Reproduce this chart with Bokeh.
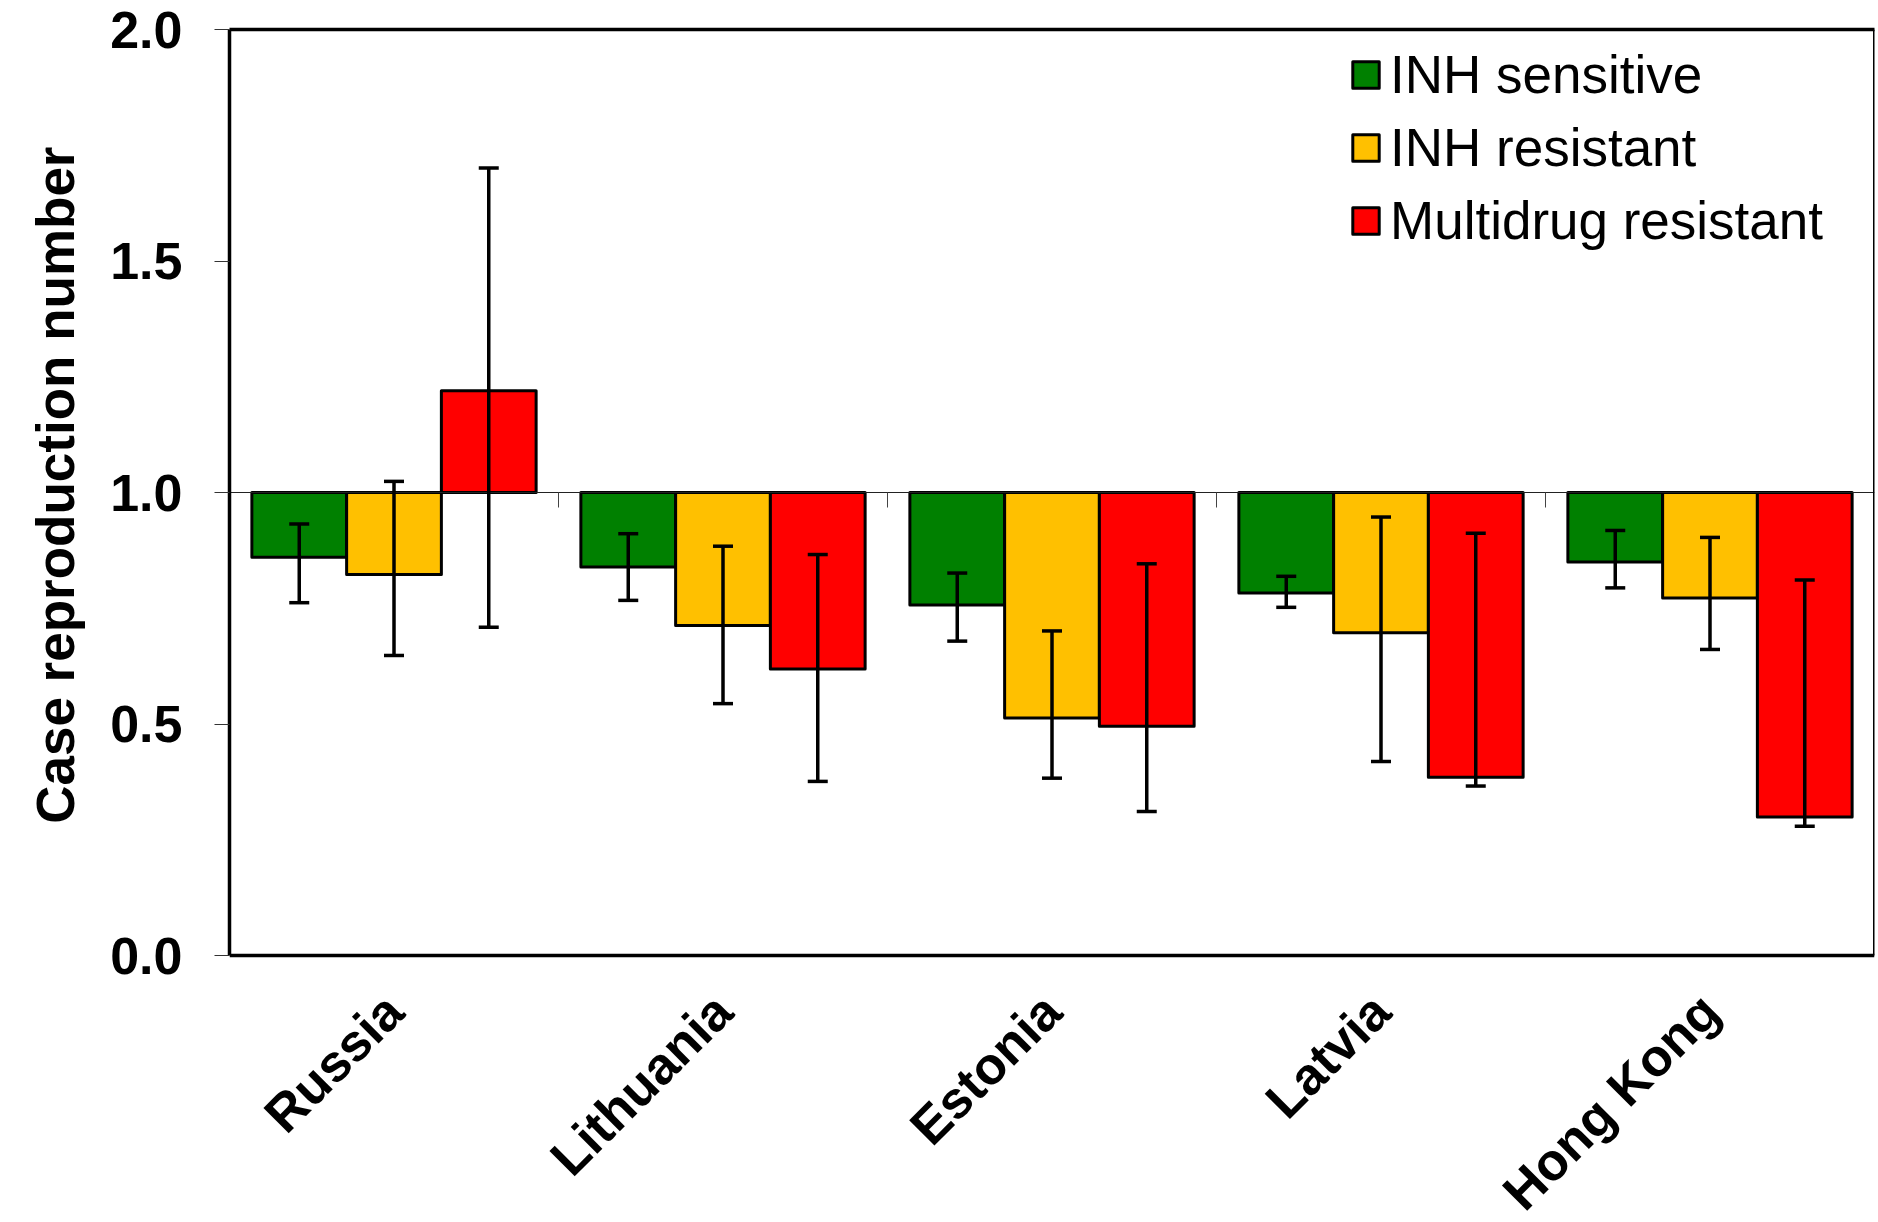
import math
from bokeh.plotting import figure
from bokeh.models import (Range1d, LinearAxis, FixedTicker, Whisker, TeeHead,
                          ColumnDataSource, Legend, LegendItem, Title)
from bokeh.embed import file_html
from bokeh.resources import INLINE

categories = ["Russia", "Lithuania", "Estonia", "Latvia", "Hong Kong"]
series_names = ["INH sensitive", "INH resistant", "Multidrug resistant"]
series_colors = ["#008000", "#FFC000", "#FF0000"]

sensitive = [0.860, 0.839, 0.757, 0.783, 0.850]
sensitive_lo = [0.762, 0.767, 0.679, 0.752, 0.794]
sensitive_hi = [0.932, 0.911, 0.826, 0.819, 0.918]

resistant = [0.823, 0.713, 0.513, 0.697, 0.772]
resistant_lo = [0.648, 0.544, 0.383, 0.419, 0.661]
resistant_hi = [1.024, 0.884, 0.701, 0.947, 0.903]

mdr = [1.220, 0.619, 0.495, 0.385, 0.299]
mdr_lo = [0.709, 0.376, 0.311, 0.366, 0.279]
mdr_hi = [1.701, 0.866, 0.846, 0.912, 0.811]

y_ticks = [0.0, 0.5, 1.0, 1.5, 2.0]
y_title = "Case reproduction number"
baseline = 1.0
y_min, y_max = 0.0, 2.0

FONT = "Liberation Sans"
BAR_W = 0.288

W, H = 1878, 1222
BORDER_L, BORDER_R, BORDER_T = 228, 4, 29
AXIS_PX = 926  # pixel height of the 0..2 plotting box
frame_h = H - BORDER_T
y_start = y_max - (y_max - y_min) * frame_h / AXIS_PX  # extra room below 0 for labels

p = figure(width=W, height=H, output_backend="svg", toolbar_location=None,
           x_range=Range1d(0, len(categories)), y_range=Range1d(y_start, y_max),
           x_axis_type=None, y_axis_type=None,
           min_border_left=BORDER_L, min_border_right=BORDER_R,
           min_border_top=BORDER_T, min_border_bottom=0)
p.grid.visible = False
p.outline_line_color = None
p.background_fill_color = "white"
p.border_fill_color = "white"

# y axis (line limited to 0..2)
yax = LinearAxis(ticker=FixedTicker(ticks=y_ticks), bounds=(y_min, y_max))
yax.major_label_overrides = {t: f"{t:.1f}" for t in y_ticks}
yax.axis_line_width = 3.5
yax.axis_line_color = "black"
yax.major_tick_out = 15
yax.major_tick_in = 0
yax.major_tick_line_width = 1
yax.major_tick_line_color = "#333333"
yax.minor_tick_line_color = None
yax.major_label_text_font = FONT
yax.major_label_text_font_style = "bold"
yax.major_label_text_font_size = "52px"
yax.major_label_text_color = "black"
yax.major_label_standoff = 32
p.add_layout(yax, "left")

# y axis title, centred on the 0..2 box rather than the whole frame
ytitle = Title(text=y_title, align="right", offset=117, standoff=46,
               text_font=FONT, text_font_style="bold", text_font_size="53px",
               text_color="black")
p.add_layout(ytitle, "left")

# top border line
tax = LinearAxis(ticker=FixedTicker(ticks=[]))
tax.axis_line_width = 3.5
tax.axis_line_color = "black"
tax.major_tick_out = 0
tax.major_tick_in = 0
tax.minor_tick_line_color = None
p.add_layout(tax, "above")

# right border line (thin)
rax = LinearAxis(ticker=FixedTicker(ticks=[]), bounds=(y_min, y_max),
                 fixed_location=len(categories))
rax.axis_line_width = 3
rax.axis_line_color = "black"
rax.major_tick_out = 0
rax.major_tick_in = 0
rax.minor_tick_line_color = None
p.add_layout(rax, "right")

# bottom axis at y = 0 with category labels
centers = [i + 0.5 for i in range(len(categories))]
xax = LinearAxis(ticker=FixedTicker(ticks=centers), fixed_location=y_min)
xax.major_label_overrides = {c: name for c, name in zip(centers, categories)}
xax.axis_line_width = 3.5
xax.axis_line_color = "black"
xax.major_tick_out = 0
xax.major_tick_in = 0
xax.minor_tick_line_color = None
xax.major_label_orientation = math.pi / 4
xax.major_label_text_font = FONT
xax.major_label_text_font_style = "bold"
xax.major_label_text_font_size = "52px"
xax.major_label_text_color = "black"
xax.major_label_standoff = 47
p.add_layout(xax, "below")

# axis crossing at y = 1.0 with ticks between categories
bounds = [i for i in range(1, len(categories))]
cax = LinearAxis(ticker=FixedTicker(ticks=bounds), fixed_location=baseline)
cax.axis_line_width = 1
cax.axis_line_color = "#222222"
cax.major_tick_out = 15
cax.major_tick_in = 0
cax.major_tick_line_width = 1
cax.major_tick_line_color = "#444444"
cax.minor_tick_line_color = None
cax.major_label_text_font_size = "0px"
cax.major_label_overrides = {b: "" for b in bounds}
p.add_layout(cax, "below")

values = [sensitive, resistant, mdr]
lows = [sensitive_lo, resistant_lo, mdr_lo]
highs = [sensitive_hi, resistant_hi, mdr_hi]
offsets = [-BAR_W, 0.0, BAR_W]

items = []
for name, color, vals, lo, hi, off in zip(series_names, series_colors, values, lows, highs, offsets):
    src = ColumnDataSource(dict(x=[c + off for c in centers], top=vals,
                                lower=lo, upper=hi))
    r = p.vbar(x="x", top="top", bottom=baseline, width=BAR_W, source=src,
               fill_color=color, line_color="black", line_width=3, line_join="round")
    w = Whisker(base="x", upper="upper", lower="lower", source=src, level="overlay",
                line_color="black", line_width=3.5,
                upper_head=TeeHead(size=20, line_width=3.5, line_color="black"),
                lower_head=TeeHead(size=20, line_width=3.5, line_color="black"))
    p.add_layout(w)
    items.append(LegendItem(label=name, renderers=[r]))

legend = Legend(items=items, location=(1120, frame_h - 13 - 3 * 62 - 2 * 12 + 1))
legend.label_text_font = FONT
legend.label_text_font_size = "53px"
legend.label_text_color = "black"
legend.glyph_width = 33
legend.glyph_height = 33
legend.spacing = 12
legend.padding = 0
legend.margin = 0
legend.label_standoff = 8
legend.border_line_color = None
legend.background_fill_alpha = 0
p.add_layout(legend)

open("out.html", "w").write(file_html(p, INLINE))
